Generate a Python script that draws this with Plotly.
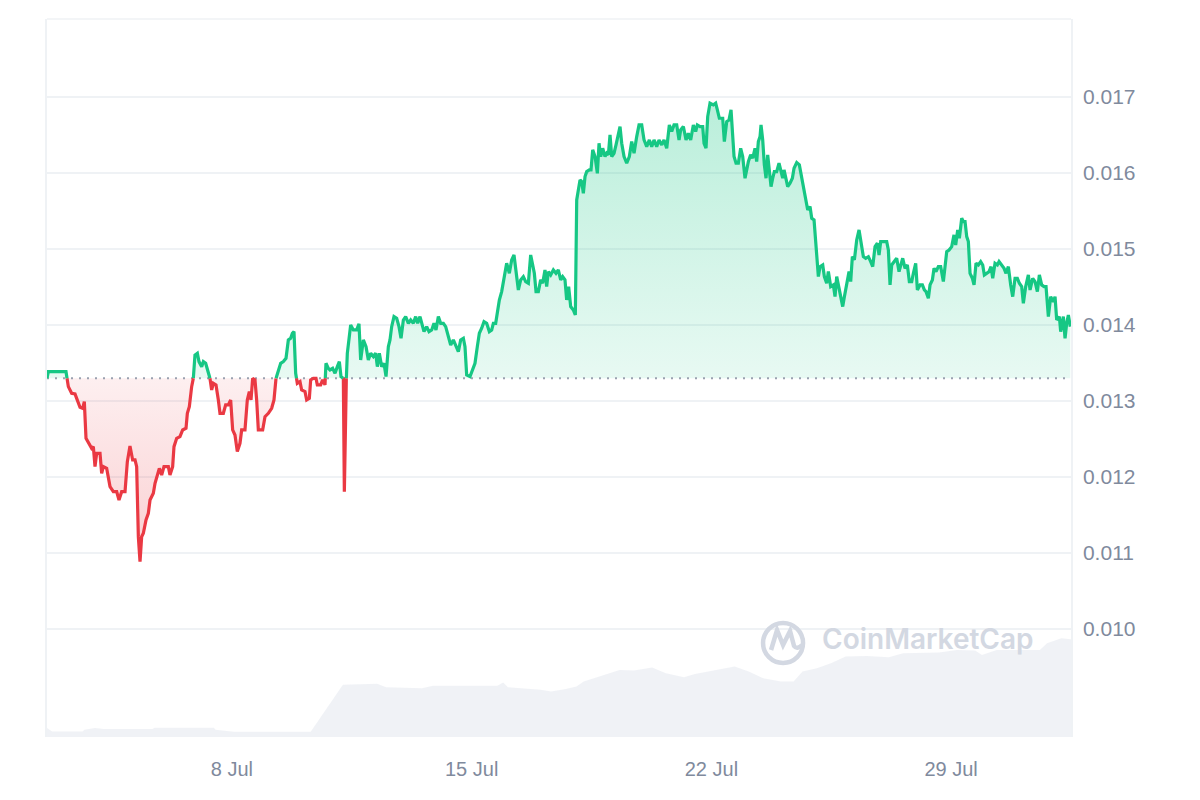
import pandas as pd
import plotly.graph_objects as go

# ---------------- data ----------------
# time is given as fractional day of July 2024 (8.0 = 8 Jul 00:00)
PRICE_DAY = [
    2.600, 2.639, 3.155, 3.223, 3.320, 3.418, 3.466, 3.564, 3.641, 3.690,
    3.739, 3.836, 3.904, 3.953, 4.002, 4.050, 4.148, 4.196, 4.245, 4.342,
    4.440, 4.537, 4.634, 4.702, 4.780, 4.878, 4.946, 5.023, 5.101, 5.170,
    5.218, 5.267, 5.316, 5.364, 5.413, 5.491, 5.559, 5.608, 5.705, 5.754,
    5.822, 5.880, 5.948, 6.016, 6.143, 6.191, 6.269, 6.308, 6.386, 6.483,
    6.561, 6.659, 6.698, 6.756, 6.824, 6.873, 6.921, 6.990, 7.038, 7.116,
    7.165, 7.233, 7.291, 7.359, 7.408, 7.457, 7.535, 7.603, 7.651, 7.749,
    7.817, 7.895, 7.963, 8.021, 8.089, 8.157, 8.235, 8.284, 8.381, 8.449,
    8.508, 8.557, 8.605, 8.673, 8.722, 8.771, 8.897, 8.965, 9.063, 9.160,
    9.228, 9.287, 9.355, 9.423, 9.501, 9.579, 9.647, 9.715, 9.764, 9.812,
    9.861, 9.909, 9.987, 10.036, 10.133, 10.182, 10.260, 10.299, 10.377, 10.455,
    10.493, 10.591, 10.649, 10.717, 10.746, 10.815, 10.863, 10.941, 11.009, 11.078,
    11.136, 11.185, 11.253, 11.282, 11.331, 11.369,
    11.467, 11.545, 11.642, 11.710, 11.759, 11.837, 11.915, 11.983, 12.051, 12.129,
    12.197, 12.246, 12.304, 12.372, 12.440, 12.499, 12.567, 12.615, 12.664, 12.732,
    12.810, 12.878, 12.937, 13.005, 13.073, 13.151, 13.219, 13.297, 13.365, 13.423,
    13.491, 13.560, 13.608, 13.686, 13.754, 13.832, 13.900, 13.958, 14.027, 14.095,
    14.173, 14.241, 14.319, 14.387, 14.465, 14.543, 14.611, 14.679, 14.757, 14.805,
    14.854, 14.951, 15.029, 15.097, 15.165, 15.224, 15.292, 15.360, 15.438, 15.516,
    15.584, 15.633, 15.701, 15.750, 15.808, 15.876, 15.944, 16.022, 16.100, 16.168,
    16.236, 16.295, 16.363, 16.431, 16.509, 16.577, 16.655, 16.723, 16.781, 16.830,
    16.879, 16.947, 17.015, 17.073, 17.141, 17.190, 17.239, 17.307, 17.385, 17.462,
    17.530, 17.599, 17.657, 17.725, 17.774, 17.832, 17.891, 17.968, 18.027,
    18.067, 18.115, 18.164, 18.213, 18.261, 18.310, 18.359, 18.436, 18.485, 18.534,
    18.602, 18.670, 18.719, 18.767, 18.826, 18.894, 18.943, 18.991, 19.040, 19.089,
    19.157, 19.215, 19.283, 19.332, 19.381, 19.449, 19.527, 19.604, 19.673, 19.741,
    19.819, 19.887, 19.965, 20.033, 20.111, 20.188, 20.257, 20.325, 20.403, 20.471,
    20.549, 20.617, 20.695, 20.772, 20.841, 20.909, 20.987, 21.055, 21.103, 21.181,
    21.259, 21.327, 21.395, 21.473, 21.541, 21.590, 21.668, 21.746, 21.785, 21.843,
    21.892, 21.960, 22.057, 22.125, 22.174, 22.232, 22.330, 22.378, 22.447, 22.515,
    22.573, 22.622, 22.661, 22.719, 22.787, 22.855, 22.914, 22.982, 23.030, 23.079,
    23.147, 23.206, 23.274, 23.322, 23.371, 23.420, 23.449, 23.498, 23.546, 23.595,
    23.644, 23.692, 23.741, 23.790, 23.838, 23.906, 23.974, 24.023, 24.082, 24.121,
    24.179, 24.228, 24.296, 24.364, 24.413, 24.491, 24.568, 24.636, 24.705, 24.753,
    24.812, 24.880, 24.929, 24.997, 25.036, 25.074, 25.123, 25.172, 25.250, 25.298,
    25.366, 25.415, 25.483,
    25.561, 25.610, 25.659, 25.737, 25.785, 25.834, 25.883, 25.951, 26.019, 26.067,
    26.116, 26.175, 26.243, 26.311, 26.369, 26.437, 26.505, 26.583, 26.651, 26.710,
    26.778, 26.846, 26.895, 26.943, 27.021, 27.119, 27.167, 27.216, 27.265, 27.342,
    27.410, 27.479, 27.537, 27.586, 27.654, 27.722, 27.780, 27.849, 27.897, 27.965,
    28.014, 28.092, 28.160, 28.218, 28.267, 28.335, 28.384, 28.452, 28.501, 28.559,
    28.627, 28.695, 28.773, 28.822, 28.871, 28.939, 29.017, 29.084, 29.133, 29.192,
    29.240, 29.309, 29.357, 29.406, 29.455, 29.503, 29.552, 29.620, 29.669, 29.727,
    29.795, 29.863, 29.922, 29.970, 30.038, 30.107, 30.165, 30.214, 30.282, 30.350,
    30.399, 30.476, 30.545, 30.603, 30.671, 30.739, 30.798, 30.866, 30.934, 30.992,
    31.060, 31.109, 31.177, 31.255, 31.304, 31.382, 31.450, 31.518, 31.576, 31.644,
    31.713, 31.771, 31.839, 31.907, 31.985, 32.034, 32.082, 32.160, 32.199, 32.277,
    32.326, 32.374, 32.423, 32.480,
]

PRICE_USD = [
    0.013300, 0.013386, 0.013386, 0.013189, 0.013101, 0.013092, 0.013035, 0.012917, 0.012904, 0.012991,
    0.012509, 0.012421, 0.012377, 0.012399, 0.012136, 0.012312, 0.012312, 0.012048, 0.012136, 0.012114,
    0.011873, 0.011807, 0.011807, 0.011698, 0.011807, 0.011807, 0.012202, 0.012408, 0.012224, 0.012224,
    0.012136, 0.011215, 0.010886, 0.011215, 0.011259, 0.011434, 0.011522, 0.011698, 0.011785, 0.011917,
    0.012048, 0.012114, 0.012026, 0.012136, 0.012136, 0.012026, 0.012136, 0.012399, 0.012509, 0.012531,
    0.012619, 0.012641, 0.012838, 0.012926, 0.013189, 0.013298, 0.013605, 0.013627, 0.013518, 0.013452,
    0.013518, 0.013496, 0.013408, 0.013298, 0.013145, 0.013233, 0.013211, 0.013013, 0.012838, 0.012838,
    0.012948, 0.012948, 0.013013, 0.012619, 0.012553, 0.012334, 0.012443, 0.012619, 0.012619, 0.013013,
    0.013123, 0.013013, 0.013298, 0.013277, 0.013013, 0.012619, 0.012619, 0.012794, 0.012838, 0.012904,
    0.013013, 0.013298, 0.013408, 0.013496, 0.013518, 0.013562, 0.013803, 0.013825, 0.013891, 0.013913,
    0.013364, 0.013233, 0.013255, 0.013145, 0.013123, 0.013013, 0.013035, 0.013277, 0.013298, 0.013298,
    0.013211, 0.013211, 0.013277, 0.013211, 0.013496, 0.013430, 0.013408, 0.013430, 0.013364, 0.013452,
    0.013518, 0.013320, 0.013298, 0.011807, 0.013189, 0.013627,
    0.014000, 0.013935, 0.013935, 0.014014, 0.013540, 0.013803, 0.013715, 0.013540, 0.013628, 0.013584,
    0.013628, 0.013452, 0.013628, 0.013452, 0.013496, 0.013321, 0.013715, 0.013803, 0.013978, 0.014110,
    0.014088, 0.013978, 0.013825, 0.014066, 0.014110, 0.014022, 0.014066, 0.014022, 0.014110, 0.014022,
    0.014110, 0.014000, 0.013913, 0.013978, 0.013913, 0.013935, 0.014022, 0.013935, 0.014110, 0.014022,
    0.014022, 0.013978, 0.013847, 0.013737, 0.013803, 0.013715, 0.013650, 0.013803, 0.013825, 0.013715,
    0.013343, 0.013321, 0.013408, 0.013496, 0.013715, 0.013891, 0.013957, 0.014044, 0.014022, 0.013913,
    0.013935, 0.014022, 0.014022, 0.014198, 0.014329, 0.014439, 0.014636, 0.014812, 0.014680, 0.014856,
    0.014921, 0.014724, 0.014461, 0.014593, 0.014636, 0.014571, 0.014549, 0.014921, 0.014768, 0.014680,
    0.014439, 0.014439, 0.014593, 0.014549, 0.014724, 0.014505, 0.014702, 0.014658, 0.014724, 0.014680,
    0.014724, 0.014593, 0.014636, 0.014593, 0.014329, 0.014505, 0.014242, 0.014198, 0.014132,
    0.015646, 0.015777, 0.015909, 0.015887, 0.015733, 0.015953, 0.016018, 0.016040, 0.016040, 0.016304,
    0.016216, 0.015996, 0.016391, 0.016216, 0.016325, 0.016216, 0.016260, 0.016238, 0.016501, 0.016216,
    0.016260, 0.016369, 0.016545, 0.016611, 0.016391, 0.016216, 0.016128, 0.016216, 0.016413, 0.016260,
    0.016479, 0.016632, 0.016632, 0.016435, 0.016347, 0.016435, 0.016347, 0.016435, 0.016347, 0.016435,
    0.016369, 0.016435, 0.016325, 0.016632, 0.016545, 0.016632, 0.016632, 0.016435, 0.016567, 0.016611,
    0.016435, 0.016523, 0.016435, 0.016632, 0.016545, 0.016632, 0.016611, 0.016611, 0.016391, 0.016325,
    0.016742, 0.016918, 0.016896, 0.016918, 0.016830, 0.016720, 0.016720, 0.016413, 0.016676, 0.016698,
    0.016830, 0.016435, 0.016216, 0.016128, 0.016128, 0.016325, 0.016216, 0.015931, 0.016040, 0.016150,
    0.016238, 0.016194, 0.016325, 0.016150, 0.016413, 0.016479, 0.016632, 0.016435, 0.016106, 0.015931,
    0.016238, 0.016040, 0.015821, 0.015931, 0.016018, 0.016018, 0.016128, 0.016040, 0.015931, 0.016040,
    0.015931, 0.015821, 0.015865, 0.015931, 0.016062, 0.016137, 0.016106, 0.015953, 0.015777, 0.015646,
    0.015514, 0.015558, 0.015404, 0.015382, 0.015119, 0.014812, 0.014637, 0.014768, 0.014790, 0.014637,
    0.014549, 0.014703, 0.014505,
    0.014527, 0.014373, 0.014636, 0.014461, 0.014307, 0.014242, 0.014373, 0.014571, 0.014702, 0.014571,
    0.014899, 0.014856, 0.015119, 0.015250, 0.015097, 0.014899, 0.014878, 0.014899, 0.014834, 0.014768,
    0.015031, 0.015075, 0.014921, 0.015097, 0.015097, 0.015097, 0.014987, 0.014527, 0.014790, 0.014834,
    0.014878, 0.014702, 0.014790, 0.014878, 0.014746, 0.014790, 0.014571, 0.014571, 0.014680, 0.014812,
    0.014461, 0.014527, 0.014527, 0.014461, 0.014439, 0.014351, 0.014527, 0.014592, 0.014746, 0.014702,
    0.014768, 0.014768, 0.014571, 0.014790, 0.014965, 0.014987, 0.015031, 0.015185, 0.015053, 0.015250,
    0.015141, 0.015404, 0.015360, 0.015360, 0.015163, 0.015097, 0.014680, 0.014614, 0.014527, 0.014812,
    0.014790, 0.014834, 0.014790, 0.014658, 0.014680, 0.014702, 0.014768, 0.014614, 0.014812, 0.014790,
    0.014834, 0.014790, 0.014746, 0.014680, 0.014768, 0.014527, 0.014373, 0.014614, 0.014614, 0.014549,
    0.014505, 0.014285, 0.014505, 0.014658, 0.014461, 0.014614, 0.014571, 0.014439, 0.014658, 0.014527,
    0.014505, 0.014505, 0.014110, 0.014373, 0.014307, 0.014373, 0.014066, 0.014110, 0.013913, 0.014110,
    0.013825, 0.014022, 0.014132, 0.013978,
]

# 24h volume, millions of USD (read from the grey area at the bottom)
VOLUME_DAY = [
    2.60, 2.75, 3.64, 3.69, 4.00, 4.26, 5.68, 5.74, 7.47, 7.52,
    8.05, 10.30, 11.24, 12.24, 12.50, 13.55, 13.87, 15.75, 15.92, 16.06,
    17.01, 17.32, 17.75, 18.06, 18.27, 18.69, 18.79, 19.32, 19.74, 20.27,
    20.67, 21.20, 21.52, 21.93, 22.68, 23.09, 23.51, 24.03, 24.40, 24.66,
    25.08, 25.49, 25.92, 26.54, 27.18, 27.60, 28.23, 28.65, 29.17, 29.70,
    29.90, 30.33, 31.59, 31.80, 32.22, 32.50,
]
VOLUME_MUSD = [
    0.090, 0.056, 0.056, 0.073, 0.090, 0.080, 0.080, 0.093, 0.093, 0.073,
    0.053, 0.053, 0.522, 0.532, 0.498, 0.488, 0.512, 0.512, 0.545, 0.498,
    0.472, 0.455, 0.479, 0.505, 0.555, 0.598, 0.610, 0.670, 0.665, 0.695,
    0.638, 0.598, 0.630, 0.655, 0.705, 0.655, 0.588, 0.555, 0.555, 0.655,
    0.688, 0.738, 0.804, 0.810, 0.798, 0.837, 0.837, 0.844, 0.870, 0.864,
    0.820, 0.870, 0.870, 0.937, 0.987, 0.977,
]

BASE_PRICE = 0.01330              # reference (opening) price – dotted line
PRICE_TICKS = [0.010, 0.011, 0.012, 0.013, 0.014, 0.015, 0.016, 0.017]
DATE_TICK_DAYS = [8, 15, 22, 29]
X_RANGE_DAYS = [2.60, 32.50]
Y_RANGE = [0.008579, 0.018026]
VOL_RANGE = [0, 7.18]

# ---------------- helpers ----------------
T0 = pd.Timestamp("2024-06-30")


def to_time(days):
    return [T0 + pd.Timedelta(days=float(d)) for d in days]


def split_at_base(days, prices, base):
    """insert the exact crossing points of the reference level"""
    out_d, out_p = [days[0]], [prices[0]]
    for i in range(1, len(days)):
        p0, p1 = prices[i - 1], prices[i]
        if (p0 - base) * (p1 - base) < 0:
            f = (base - p0) / (p1 - p0)
            out_d.append(days[i - 1] + f * (days[i] - days[i - 1]))
            out_p.append(base)
        out_d.append(days[i])
        out_p.append(p1)
    return out_d, out_p


aug_d, aug_p = split_at_base(PRICE_DAY, PRICE_USD, BASE_PRICE)
aug_t = to_time(aug_d)
green_line = [p if p >= BASE_PRICE else None for p in aug_p]
red_line = [p if p <= BASE_PRICE else None for p in aug_p]
green_fill = [max(p, BASE_PRICE) for p in aug_p]
red_fill = [min(p, BASE_PRICE) for p in aug_p]
base_line = [BASE_PRICE] * len(aug_p)

GREEN = "#16c784"
RED = "#ea3943"
LABEL = "#808a9d"
GRID = "#eff2f5"
WATERMARK = "#d3d8e2"

fig = go.Figure()

# volume (background)
fig.add_trace(go.Scatter(
    x=to_time(VOLUME_DAY), y=VOLUME_MUSD, yaxis="y2", mode="lines",
    line=dict(width=0), fill="tozeroy",
    fillcolor="rgba(207,214,228,0.32)", hoverinfo="skip", showlegend=False))

# green area above reference
fig.add_trace(go.Scatter(x=aug_t, y=base_line, mode="lines", line=dict(width=0),
                         hoverinfo="skip", showlegend=False))
fig.add_trace(go.Scatter(
    x=aug_t, y=green_fill, mode="lines", line=dict(width=0), fill="tonexty",
    fillgradient=dict(type="vertical", start=BASE_PRICE, stop=0.0170,
                      colorscale=[[0, "rgba(22,199,132,0.10)"], [1, "rgba(22,199,132,0.30)"]]),
    hoverinfo="skip", showlegend=False))

# red area below reference
fig.add_trace(go.Scatter(x=aug_t, y=base_line, mode="lines", line=dict(width=0),
                         hoverinfo="skip", showlegend=False))
fig.add_trace(go.Scatter(
    x=aug_t, y=red_fill, mode="lines", line=dict(width=0), fill="tonexty",
    fillgradient=dict(type="vertical", start=0.0109, stop=BASE_PRICE,
                      colorscale=[[0, "rgba(234,57,67,0.24)"], [1, "rgba(234,57,67,0.08)"]]),
    hoverinfo="skip", showlegend=False))

# dotted reference line
fig.add_trace(go.Scatter(
    x=to_time([PRICE_DAY[0], PRICE_DAY[-1]]), y=[BASE_PRICE, BASE_PRICE], mode="lines",
    line=dict(color="#9aa1b0", width=2, dash="2px,6px"), hoverinfo="skip", showlegend=False))

# price lines
fig.add_trace(go.Scatter(x=aug_t, y=red_line, mode="lines",
                         line=dict(color=RED, width=3.2), connectgaps=False, showlegend=False))
fig.add_trace(go.Scatter(x=aug_t, y=green_line, mode="lines",
                         line=dict(color=GREEN, width=3.2), connectgaps=False, showlegend=False))

# watermark
fig.add_annotation(text="CoinMarketCap", xref="paper", yref="paper",
                   x=0.8604, y=0.1365, xanchor="center", yanchor="middle", showarrow=False,
                   font=dict(family="Inter, Lato, sans-serif", size=28, color=WATERMARK, weight=600))
fig.add_shape(type="circle", xref="paper", yref="paper", xsizemode="pixel", ysizemode="pixel",
              xanchor=0.7188, yanchor=0.1309, x0=-20, x1=20, y0=-20, y1=20,
              line=dict(color=WATERMARK, width=4.5), layer="above")
fig.add_shape(type="path", xref="paper", yref="paper", xsizemode="pixel", ysizemode="pixel",
              xanchor=0.7188, yanchor=0.1309,
              path="M -12,-7 L -6,13 L 0,-2 L 7,12 L 11,-3 Q 14,-7 19,-2",
              line=dict(color=WATERMARK, width=4.5), layer="above")
# top border of the plot frame
fig.add_shape(type="line", xref="paper", yref="paper", x0=0, x1=1, y0=1, y1=1,
              line=dict(color=GRID, width=1.5))

fig.update_layout(
    width=1200, height=800,
    margin=dict(l=47, r=129, t=19, b=63),
    paper_bgcolor="white", plot_bgcolor="white",
    font=dict(family="Liberation Sans, Arial, sans-serif", size=20, color=LABEL),
    showlegend=False,
    xaxis=dict(type="date", range=to_time(X_RANGE_DAYS), tickvals=to_time(DATE_TICK_DAYS),
               tickformat="%-d %b", showgrid=False, zeroline=False, showline=False,
               ticks="", ticklabelstandoff=18, tickfont=dict(size=20, color=LABEL)),
    yaxis=dict(side="right", range=Y_RANGE, tickvals=PRICE_TICKS, tickformat=".3f",
               showgrid=True, gridcolor=GRID, gridwidth=1.5, zeroline=False,
               showline=True, linecolor=GRID, linewidth=1.5, mirror=True,
               ticks="", ticklabelstandoff=6, tickfont=dict(size=21, color=LABEL)),
    yaxis2=dict(overlaying="y", range=VOL_RANGE, visible=False),
)

fig.write_html("out.html", config={"displayModeBar": False},
               post_script="document.body.style.margin='0';")
